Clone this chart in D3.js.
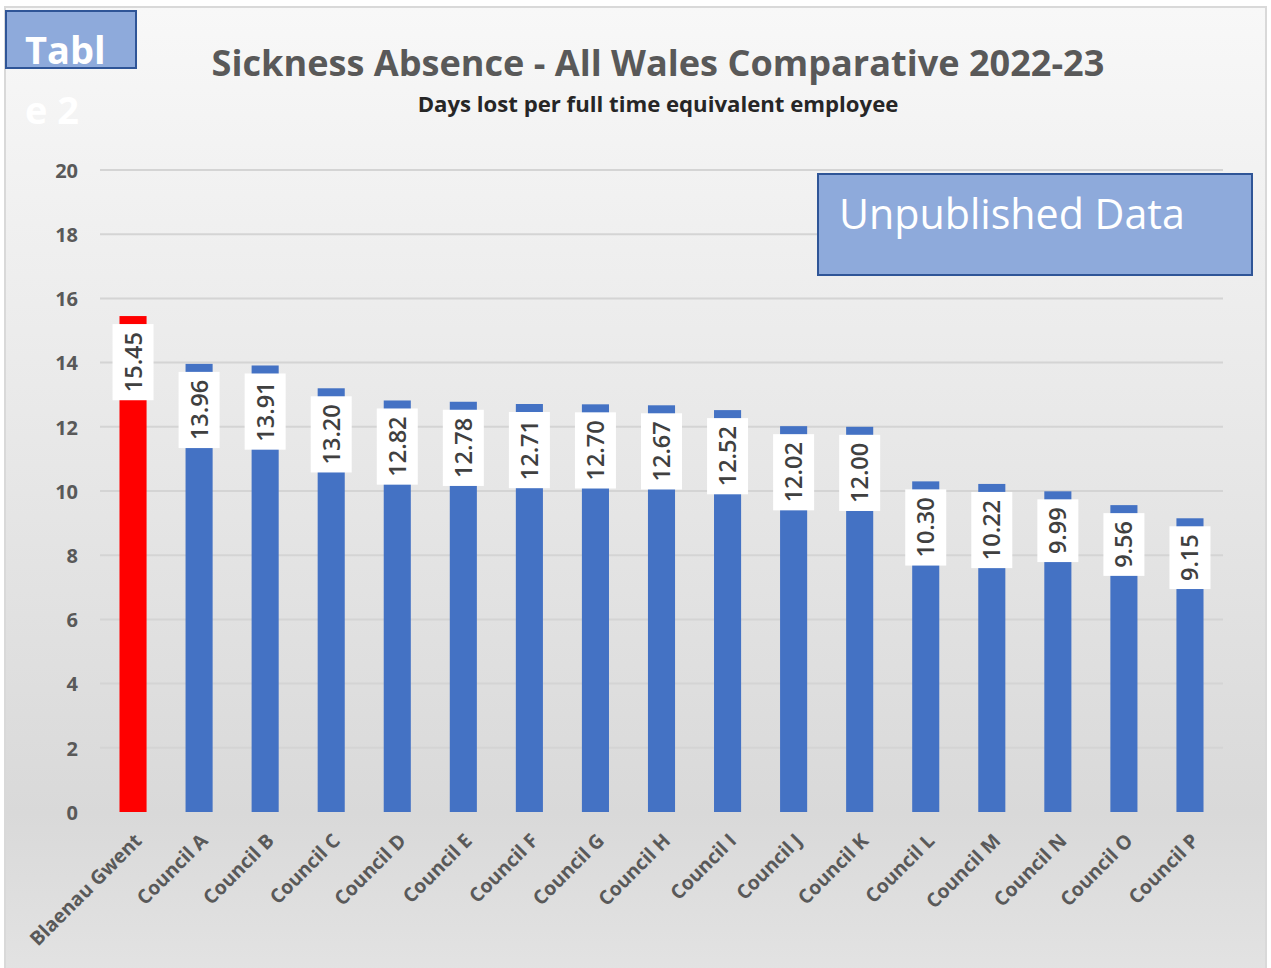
<!DOCTYPE html>
<html>
<head>
<meta charset="utf-8">
<script src="https://cdn.jsdelivr.net/npm/d3@7"></script>
<style>
  body { margin: 0; background: #ffffff; }
  svg { display: block; font-family: "Open Sans", "Liberation Sans", sans-serif; }
</style>
</head>
<body>
<div id="chart"></div>
<script>
// chart data
const councils = ["Blaenau Gwent", "Council A", "Council B", "Council C", "Council D", "Council E",
  "Council F", "Council G", "Council H", "Council I", "Council J", "Council K", "Council L",
  "Council M", "Council N", "Council O", "Council P"];
const daysLost = [15.45, 13.96, 13.91, 13.20, 12.82, 12.78, 12.71, 12.70, 12.67, 12.52, 12.02,
  12.00, 10.30, 10.22, 9.99, 9.56, 9.15];
const yTicks = [0, 2, 4, 6, 8, 10, 12, 14, 16, 18, 20];
const highlight = "Blaenau Gwent";

const titleText = "Sickness Absence - All Wales Comparative 2022-23";
const subtitleText = "Days lost per full time equivalent employee";

const width = 1271, height = 968;
const margin = {top: 170, right: 48, bottom: 156, left: 100};

const svg = d3.select("#chart").append("svg")
  .attr("width", width)
  .attr("height", height);

// background gradient like the office chart area
const defs = svg.append("defs");
const grad = defs.append("linearGradient")
  .attr("id", "bg").attr("x1", 0).attr("y1", 0).attr("x2", 0).attr("y2", 1);
grad.append("stop").attr("offset", "0%").attr("stop-color", "#f8f8f8");
grad.append("stop").attr("offset", "50%").attr("stop-color", "#e6e6e6");
grad.append("stop").attr("offset", "83%").attr("stop-color", "#d9d9d9");
grad.append("stop").attr("offset", "100%").attr("stop-color", "#e3e3e3");

svg.append("rect")
  .attr("x", 5).attr("y", 7)
  .attr("width", 1261).attr("height", 970)
  .attr("fill", "url(#bg)")
  .attr("stroke", "#d9d9d9")
  .attr("stroke-width", 2);

const x = d3.scaleBand()
  .domain(councils)
  .range([margin.left, width - margin.right])
  .paddingInner(0.59)
  .paddingOuter(0.295);

const y = d3.scaleLinear()
  .domain([0, 20])
  .range([height - margin.bottom, margin.top]);

// gridlines
svg.append("g")
  .selectAll("line")
  .data(yTicks.filter(d => d > 0))
  .join("line")
    .attr("x1", margin.left)
    .attr("x2", width - margin.right)
    .attr("y1", d => y(d))
    .attr("y2", d => y(d))
    .attr("stroke", "#d4d4d4")
    .attr("stroke-width", 2);

// y axis labels
const yAxis = svg.append("g")
  .attr("transform", `translate(${margin.left - 22},0)`)
  .call(d3.axisLeft(y).tickValues(yTicks).tickSize(0).tickPadding(0));
yAxis.select(".domain").remove();
yAxis.selectAll("text")
  .attr("font-family", "Open Sans, sans-serif")
  .attr("font-size", 20)
  .attr("font-weight", "bold")
  .attr("fill", "#595959")
  .attr("dy", "0.36em");

// bars
svg.append("g")
  .selectAll("rect")
  .data(councils)
  .join("rect")
    .attr("x", d => x(d))
    .attr("y", (d, i) => y(daysLost[i]))
    .attr("width", x.bandwidth())
    .attr("height", (d, i) => y(0) - y(daysLost[i]))
    .attr("fill", d => d === highlight ? "#ff0000" : "#4472c4");

// value labels in white boxes, text rotated
const labels = svg.append("g")
  .selectAll("g")
  .data(councils)
  .join("g");

labels.each(function(d, i) {
  const g = d3.select(this);
  const cx = x(d) + x.bandwidth() / 2;
  const top = y(daysLost[i]) + 8;
  const txt = g.append("text")
    .attr("font-size", 23.5)
    .attr("font-weight", 600)
    .attr("fill", "#404040")
    .attr("text-anchor", "middle")
    .text(daysLost[i].toFixed(2));
  const len = txt.node().getComputedTextLength();
  const boxH = len + 16;
  g.insert("rect", "text")
    .attr("x", cx - 20.5)
    .attr("y", top)
    .attr("width", 41)
    .attr("height", boxH)
    .attr("fill", "#ffffff");
  txt.attr("transform", `translate(${cx + 8.5},${top + boxH / 2}) rotate(-90)`);
});

// x axis category labels
svg.append("g")
  .selectAll("text")
  .data(councils)
  .join("text")
    .attr("transform", d => `translate(${x(d) + x.bandwidth() / 2 + 10},${y(0) + 30}) rotate(-45)`)
    .attr("text-anchor", "end")
    .attr("font-size", 19.5)
    .attr("font-weight", "bold")
    .attr("fill", "#595959")
    .text(d => d);

// title + subtitle, fitted to the widths in the picture
function fitText(sel, target) {
  const w = sel.node().getComputedTextLength();
  const fs = +sel.attr("font-size");
  sel.attr("font-size", fs * target / w);
}

const title = svg.append("text")
  .attr("x", 658).attr("y", 76)
  .attr("text-anchor", "middle")
  .attr("font-size", 36)
  .attr("font-weight", "bold")
  .attr("fill", "#595959")
  .text(titleText);
fitText(title, 893);

const subtitle = svg.append("text")
  .attr("x", 658).attr("y", 112)
  .attr("text-anchor", "middle")
  .attr("font-size", 20)
  .attr("font-weight", "bold")
  .attr("fill", "#262626")
  .text(subtitleText);
fitText(subtitle, 481);

// "Table 2" box in corner
svg.append("rect")
  .attr("x", 6).attr("y", 11)
  .attr("width", 130).attr("height", 57)
  .attr("fill", "#8eaadb")
  .attr("stroke", "#2f5597")
  .attr("stroke-width", 2);
svg.append("text")
  .attr("x", 25).attr("y", 64)
  .attr("font-size", 38)
  .attr("font-weight", "bold")
  .attr("fill", "#ffffff")
  .text("Tabl");
svg.append("text")
  .attr("x", 25).attr("y", 124)
  .attr("font-size", 38)
  .attr("font-weight", "bold")
  .attr("fill", "#ffffff")
  .text("e 2");

// unpublished data box
svg.append("rect")
  .attr("x", 818).attr("y", 174)
  .attr("width", 434).attr("height", 101)
  .attr("fill", "#8eaadb")
  .attr("stroke", "#2f5597")
  .attr("stroke-width", 2);
const unpub = svg.append("text")
  .attr("x", 839).attr("y", 229)
  .attr("font-size", 42)
  .attr("fill", "#ffffff")
  .text("Unpublished Data");
fitText(unpub, 346);
</script>
</body>
</html>
